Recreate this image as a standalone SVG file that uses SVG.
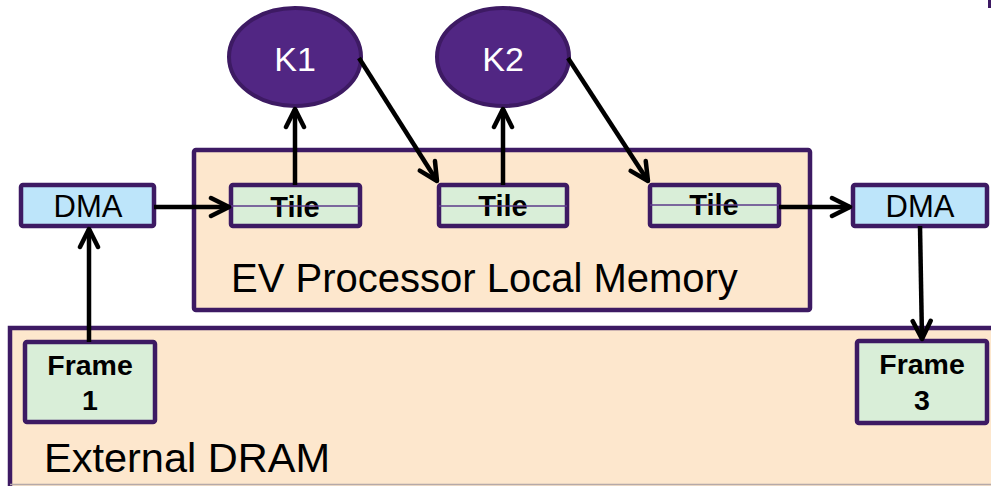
<svg xmlns="http://www.w3.org/2000/svg" width="991" height="486" viewBox="0 0 991 486">
<style>
.box{stroke:#3d1a63;stroke-width:4.5}
.mem{fill:#fde7cd}
.tile{fill:#d9eed8}
.dma{fill:#bde5fa}
.k{fill:#512683;stroke:#3d1a63;stroke-width:4}
.t{font-family:"Liberation Sans",Arial,sans-serif;fill:#000}
.b{font-weight:bold}
.c{text-anchor:middle}
.w{fill:#fff}
.ln{stroke:#000;stroke-width:4.5;fill:none}
</style>
<defs>
<marker id="ah2" viewBox="0 0 24 24" refX="21" refY="12" markerWidth="24" markerHeight="24" markerUnits="userSpaceOnUse" orient="auto">
<path d="M3,3 L21,12 L3,21" fill="none" stroke="#000" stroke-width="4.5" stroke-linecap="round" stroke-linejoin="round"/>
</marker>
</defs>
<g id="dram">
<rect class="box mem" x="10" y="328" width="990" height="170"/>
<line x1="10" y1="484.5" x2="991" y2="484.5" stroke="#b5a9a9" stroke-width="1.5"/>
<text class="t" x="44" y="472" font-size="41.5">External DRAM</text>
</g>
<g id="localmem">
<rect class="box mem" x="194" y="150" width="616" height="160" rx="2"/>
<text class="t" x="231" y="292" font-size="40">EV Processor Local Memory</text>
</g>
<g id="frame1">
<rect class="box tile" x="25" y="342" width="130" height="80" rx="2"/>
<text class="t b c" x="90" y="375" font-size="28.5">Frame</text>
<text class="t b c" x="90" y="410" font-size="28.5">1</text>
</g>
<g id="frame3">
<rect class="box tile" x="857" y="341" width="130" height="82" rx="2"/>
<text class="t b c" x="922" y="374" font-size="28.5">Frame</text>
<text class="t b c" x="922" y="410" font-size="28.5">3</text>
</g>
<g id="dma1">
<rect class="box dma" x="21" y="185" width="133" height="41" rx="2"/>
<text class="t c" x="88" y="217" font-size="31">DMA</text>
</g>
<g id="dma2">
<rect class="box dma" x="853" y="185" width="134" height="41" rx="2"/>
<text class="t c" x="920" y="217" font-size="31">DMA</text>
</g>
<g id="tile1">
<rect class="box tile" x="231" y="185" width="129" height="41" rx="2"/>
<text class="t b c" x="295" y="217" font-size="29">Tile</text>
<line x1="231" y1="206" x2="360" y2="206" stroke="#5b3a8a" stroke-width="1.5"/>
</g>
<g id="tile2">
<rect class="box tile" x="439" y="185" width="128" height="41" rx="2"/>
<text class="t b c" x="503" y="216" font-size="29">Tile</text>
<line x1="439" y1="206" x2="567" y2="206" stroke="#5b3a8a" stroke-width="1.5"/>
</g>
<g id="tile3">
<rect class="box tile" x="650" y="185" width="129" height="41" rx="2"/>
<text class="t b c" x="714" y="215" font-size="29">Tile</text>
<line x1="650" y1="205" x2="779" y2="205" stroke="#5b3a8a" stroke-width="1.5"/>
</g>
<g id="k1">
<ellipse class="k" cx="295" cy="57" rx="66" ry="49"/>
<text class="t w c" x="295" y="71" font-size="34">K1</text>
</g>
<g id="k2">
<ellipse class="k" cx="503" cy="57" rx="66" ry="49"/>
<text class="t w c" x="503" y="71" font-size="34">K2</text>
</g>
<g id="connectors">
<line class="ln" x1="154" y1="207" x2="229" y2="207" marker-end="url(#ah2)"/>
<line class="ln" x1="89" y1="342" x2="89" y2="229" marker-end="url(#ah2)"/>
<line class="ln" x1="295" y1="185" x2="295" y2="109" marker-end="url(#ah2)"/>
<line class="ln" x1="359" y1="58" x2="437" y2="181" marker-end="url(#ah2)"/>
<line class="ln" x1="503" y1="185" x2="503" y2="109" marker-end="url(#ah2)"/>
<line class="ln" x1="568" y1="58" x2="648" y2="181" marker-end="url(#ah2)"/>
<line class="ln" x1="779" y1="207" x2="850" y2="207" marker-end="url(#ah2)"/>
<line class="ln" x1="920" y1="226" x2="922" y2="339" marker-end="url(#ah2)"/>
</g>
<rect x="988" y="0" width="3" height="8" fill="#3d1a63"/>
</svg>
